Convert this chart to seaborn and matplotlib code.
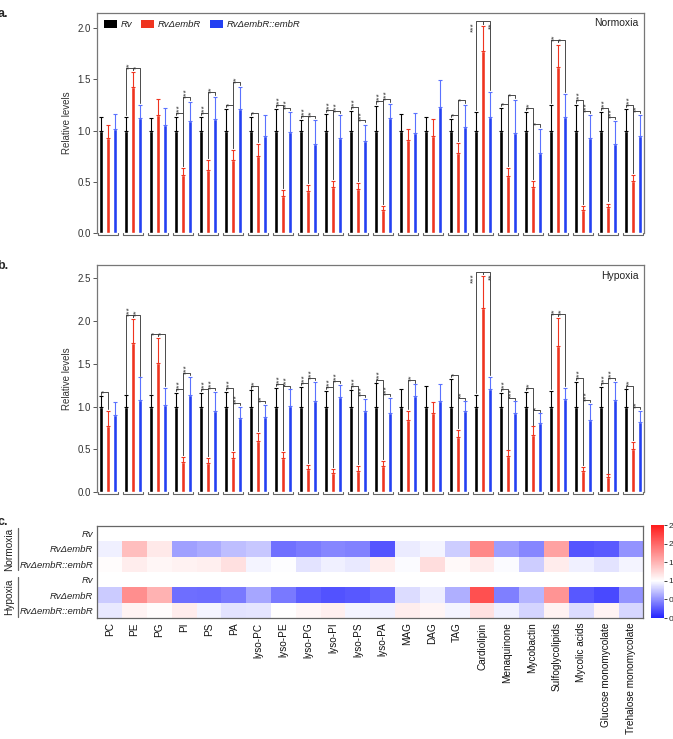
import numpy as np
import pandas as pd
import matplotlib
matplotlib.use('Agg')
import matplotlib.pyplot as plt
import seaborn as sns
from matplotlib.colors import LinearSegmentedColormap
from matplotlib.patches import Patch
from matplotlib.lines import Line2D

# lipid classes (x axis)
lipids = ['PC', 'PE', 'PG', 'PI', 'PS', 'PA', 'lyso-PC', 'lyso-PE', 'lyso-PG',
          'lyso-PI', 'lyso-PS', 'lyso-PA', 'MAG', 'DAG', 'TAG', 'Cardiolipin',
          'Menaquinone', 'Mycobactin', 'Sulfoglycolipids', 'Mycolic acids',
          'Glucose monomycolate', 'Trehalose monomycolate']
strains = ['Rv', 'RvΔembR', 'RvΔembR::embR']

# normoxia: means and upper errors
norm_rv = [1.0, 1.0, 1.0, 1.0, 1.0, 1.0, 1.0, 1.0, 1.0, 1.0, 1.0,
           1.0, 1.0, 1.0, 1.0, 1.0, 1.0, 1.0, 1.0, 1.0, 1.0, 1.0]
norm_rv_err = [0.13, 0.13, 0.12, 0.13, 0.13, 0.21, 0.13, 0.21, 0.10, 0.16, 0.19,
               0.24, 0.16, 0.13, 0.11, 0.18, 0.22, 0.18, 0.25, 0.25, 0.18, 0.21]
norm_del = [0.93, 1.43, 1.15, 0.57, 0.62, 0.71, 0.75, 0.36, 0.41, 0.45, 0.43,
            0.23, 0.91, 0.95, 0.78, 1.78, 0.56, 0.45, 1.62, 0.23, 0.26, 0.51]
norm_del_err = [0.13, 0.14, 0.16, 0.07, 0.09, 0.10, 0.12, 0.06, 0.06, 0.06, 0.06,
                0.04, 0.11, 0.16, 0.10, 0.24, 0.08, 0.06, 0.22, 0.04, 0.03, 0.06]
norm_comp = [1.02, 1.12, 1.06, 1.09, 1.11, 1.21, 0.95, 0.99, 0.87, 0.93, 0.90,
             1.12, 0.98, 1.23, 1.04, 1.13, 0.98, 0.78, 1.13, 0.93, 0.87, 0.95]
norm_comp_err = [0.14, 0.13, 0.16, 0.19, 0.22, 0.22, 0.20, 0.19, 0.23, 0.22, 0.16,
                 0.14, 0.19, 0.26, 0.21, 0.25, 0.32, 0.24, 0.23, 0.22, 0.22, 0.20]

# hypoxia: means and upper errors
hyp_rv = [1.0, 1.0, 1.0, 1.0, 1.0, 1.0, 1.0, 1.0, 1.0, 1.0, 1.0,
          1.0, 1.0, 1.0, 1.0, 1.0, 1.0, 1.0, 1.0, 1.0, 1.0, 1.0]
hyp_rv_err = [0.12, 0.13, 0.13, 0.16, 0.16, 0.17, 0.19, 0.22, 0.23, 0.18, 0.19,
              0.27, 0.21, 0.24, 0.32, 0.14, 0.16, 0.17, 0.18, 0.29, 0.23, 0.20]
hyp_del = [0.77, 1.74, 1.51, 0.35, 0.34, 0.40, 0.60, 0.40, 0.27, 0.22, 0.25,
           0.31, 0.84, 0.92, 0.64, 2.15, 0.42, 0.67, 1.70, 0.25, 0.18, 0.51]
hyp_del_err = [0.18, 0.28, 0.29, 0.06, 0.06, 0.07, 0.09, 0.07, 0.05, 0.05, 0.06,
               0.06, 0.11, 0.13, 0.09, 0.37, 0.07, 0.10, 0.33, 0.05, 0.03, 0.08]
hyp_comp = [0.90, 1.08, 1.02, 1.13, 0.95, 0.87, 0.88, 1.01, 1.06, 1.11, 0.95,
            0.93, 1.12, 1.07, 0.95, 1.20, 0.93, 0.81, 1.09, 0.84, 1.08, 0.82]
hyp_comp_err = [0.15, 0.26, 0.20, 0.22, 0.22, 0.13, 0.14, 0.19, 0.23, 0.14, 0.14,
                0.17, 0.14, 0.19, 0.11, 0.15, 0.13, 0.11, 0.13, 0.19, 0.21, 0.13]

# significance marks (Rv vs deletion, deletion vs complement)
norm_sig_left = ['', '**', '', '***', '***', '*', '*', '***', '***', '***', '***',
                 '***', '', '', '*', '***', '*', '**', '**', '***', '***', '***']
norm_sig_right = ['', '*', '', '***', '**', '**', '', '***', '**', '***', '***',
                  '***', '', '', '*', '**', '*', '*', '*', '***', '***', '**']
hyp_sig_left = ['*', '***', '*', '***', '***', '***', '**', '***', '***', '***', '***',
                '***', '', '', '*', '***', '***', '**', '**', '***', '***', '**']
hyp_sig_right = ['', '**', '*', '***', '***', '***', '**', '***', '***', '***', '***',
                 '***', '**', '', '**', '**', '***', '*', '**', '***', '***', '**']

colors = ['#000000', '#ef341f', '#2340f2']
err_colors = ['#000000', '#ef341f', '#5a72ff']

sns.set_style('white')
plt.rcParams['font.family'] = ['Liberation Sans', 'DejaVu Sans']

fig = plt.figure(figsize=(6.73, 7.39), dpi=100)
ax_a = fig.add_axes([0.1441, 0.6843, 0.8128, 0.2985])
ax_b = fig.add_axes([0.1441, 0.3338, 0.8128, 0.3076])
ax_c = fig.add_axes([0.1446, 0.1633, 0.8113, 0.1253])
cax = fig.add_axes([0.9673, 0.1637, 0.0193, 0.1258])


def bar_panel(ax, means, errs, sig_l, sig_r, ymax, title):
    df = pd.DataFrame({
        'lipid': lipids * 3,
        'strain': [s for s in strains for _ in lipids],
        'value': means[0] + means[1] + means[2],
    })
    sns.barplot(data=df, x='lipid', y='value', hue='strain', order=lipids,
                hue_order=strains, palette=colors, errorbar=None,
                width=0.82, gap=0.38, ax=ax, legend=False, saturation=1)
    bar_conts = list(ax.containers)
    xs, tops = [], []
    for k, cont in enumerate(bar_conts):
        x = np.array([p.get_x() + p.get_width() / 2 for p in cont])
        h = np.array([p.get_height() for p in cont])
        e = np.array(errs[k])
        ax.errorbar(x, h, yerr=[np.zeros_like(e), e], fmt='none',
                    ecolor=err_colors[k], elinewidth=0.8, capsize=1.2,
                    capthick=0.8)
        xs.append(x)
        tops.append(h + e)
    # group underline brackets
    for i in range(len(lipids)):
        x0 = xs[0][i] - 0.12
        x1 = xs[2][i] + 0.12
        ax.plot([x0, x0, x1, x1], [0.0, -0.02, -0.02, 0.0], color='#666666',
                lw=0.8, clip_on=False)
    # significance brackets
    gap = 0.02
    for i in range(len(lipids)):
        for (a, b, s, off) in [(0, 1, sig_l[i], -0.015), (1, 2, sig_r[i], 0.015)]:
            if not s:
                continue
            xa, xb = xs[a][i], xs[b][i]
            if a == 1:
                xa += off
            if b == 1:
                xb += off
            h = max(tops[a][i], tops[b][i]) + 0.045
            ax.plot([xa, xa, xb, xb],
                    [tops[a][i] + gap, h, h, tops[b][i] + gap],
                    color='#4a4a4a', lw=0.7, clip_on=False)
            if h + 0.14 > ymax:
                xt = xa - 0.09 if a == 0 else xb + 0.09
                ax.text(xt, h - 0.01, s, rotation=90, fontsize=6, ha='center',
                        va='top', color='#333333')
            else:
                ax.text((xa + xb) / 2, h - 0.01, s, rotation=90, fontsize=6,
                        ha='center', va='bottom', color='#333333')
    ax.set_xlim(-0.44, len(lipids) - 0.56)
    ax.set_ylim(0, ymax)
    ax.set_xlabel('')
    ax.set_xticks([])
    ax.set_ylabel('Relative levels', fontsize=7, color='#333333', labelpad=4)
    ticks = np.arange(0, ymax, 0.5)
    ax.set_yticks(ticks)
    ax.set_yticklabels([f'{t:.1f}' for t in ticks], fontsize=7, color='#333333')
    ax.tick_params(axis='y', direction='out', length=3, width=0.7,
                   color='#555555', pad=1.5, left=True)
    for side in ['left', 'top', 'right']:
        ax.spines[side].set_color('#777777')
        ax.spines[side].set_linewidth(0.9)
    ax.spines['bottom'].set_visible(False)
    ax.text(0.99, 0.975, title, transform=ax.transAxes, ha='right', va='top',
            fontsize=7.5, color='#222222')


bar_panel(ax_a, [norm_rv, norm_del, norm_comp],
          [norm_rv_err, norm_del_err, norm_comp_err],
          norm_sig_left, norm_sig_right, 2.15, 'Normoxia')
bar_panel(ax_b, [hyp_rv, hyp_del, hyp_comp],
          [hyp_rv_err, hyp_del_err, hyp_comp_err],
          hyp_sig_left, hyp_sig_right, 2.65, 'Hypoxia')

handles = [Patch(facecolor=c, edgecolor='none') for c in colors]
leg = ax_a.legend(handles, strains, loc='upper left', ncol=3, frameon=False,
                  fontsize=6.8, handlelength=1.4, handleheight=0.9,
                  handletextpad=0.4, columnspacing=0.9, borderaxespad=0.35)
for t in leg.get_texts():
    t.set_fontstyle('italic')
    t.set_color('#222222')

# heatmap
heat = pd.DataFrame([norm_rv, norm_del, norm_comp, hyp_rv, hyp_del, hyp_comp],
                    columns=lipids)
cmap = LinearSegmentedColormap.from_list(
    'rel', [(0.0, '#2222ff'), (0.4, '#ffffff'), (1.0, '#ff1c1c')])
sns.heatmap(heat, ax=ax_c, cmap=cmap, vmin=0, vmax=2.5, cbar_ax=cax,
            xticklabels=lipids, yticklabels=False)
ax_c.set_yticks(np.arange(6) + 0.5)
ax_c.set_yticklabels(strains * 2, fontsize=6.8, style='italic', color='#222222')
ax_c.set_xticklabels(lipids, rotation=90, fontsize=7.2, color='#111111')
ax_c.tick_params(length=0, pad=3)
for side in ['left', 'top', 'right', 'bottom']:
    ax_c.spines[side].set_visible(True)
    ax_c.spines[side].set_color('#666666')
    ax_c.spines[side].set_linewidth(0.9)
cax.set_yticks([0, 0.5, 1.0, 1.5, 2.0, 2.5])
cax.set_yticklabels(['0', '0.5', '1', '1.5', '2', '2.5'], fontsize=6)
cax.tick_params(length=2, width=0.6, pad=1)

fig.text(0.0135, 0.257, 'Normoxia', rotation=90, ha='center', va='center',
         fontsize=7.3, color='#222222')
fig.text(0.0135, 0.192, 'Hypoxia', rotation=90, ha='center', va='center',
         fontsize=7.3, color='#222222')
fig.add_artist(Line2D([0.0267, 0.0267], [1 - 528 / 739, 1 - 570 / 739],
                      color='#666666', lw=0.9))
fig.add_artist(Line2D([0.0267, 0.0267], [1 - 577 / 739, 1 - 617 / 739],
                      color='#666666', lw=0.9))

# panel letters
fig.text(-0.004, 0.989, 'a.', fontsize=9, fontweight='bold', va='top')
fig.text(-0.004, 0.648, 'b.', fontsize=9, fontweight='bold', va='top')
fig.text(-0.004, 0.302, 'c.', fontsize=9, fontweight='bold', va='top')

fig.savefig('out.png', dpi=100)
